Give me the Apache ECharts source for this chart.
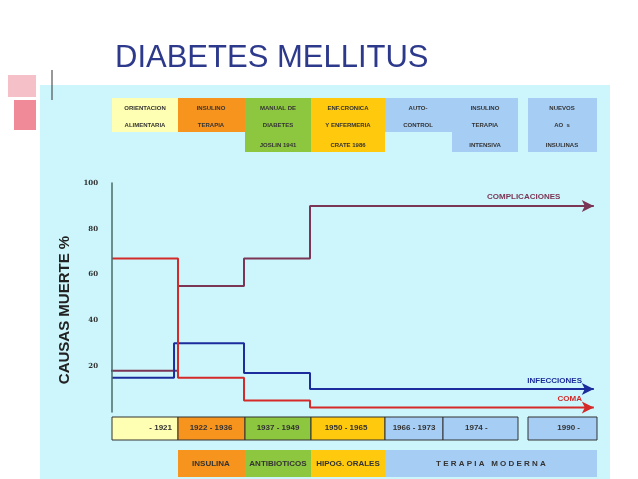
<!DOCTYPE html>
<html><head><meta charset="utf-8">
<script src="https://cdn.jsdelivr.net/npm/echarts@6/dist/echarts.min.js"></script>
<style>html,body{margin:0;padding:0;background:#fff}#c{width:638px;height:479px}</style>
</head><body><div id="c"></div>
<script>
// x unit = one period box; y = % of deaths
const yTicks = [20, 40, 60, 80, 100];
const complicaciones = [[-0.05, 18], [1, 55], [2, 67], [3, 90], [7.3, 90]];
const coma = [[0, 67], [1, 15], [2, 5], [3, 2], [7.3, 2]];
const infecciones = [[0, 15], [0.94, 30], [2, 17], [3, 10], [7.3, 10]];
const periods = ['- 1921', '1922 - 1936', '1937 - 1949', '1950 - 1965', '1966 - 1973', '1974 -', '1990 -'];
const therapies = ['INSULINA', 'ANTIBIOTICOS', 'HIPOG. ORALES', 'T E R A P I A   M O D E R N A'];

const C = { yel: '#ffffb4', ora: '#f7941d', grn: '#8dc63f', gld: '#ffc90e', blu: '#a6cdf4' };

function withArrow(pts) {
  return pts.map((p, i) => i === pts.length - 1
    ? { value: p, symbol: 'arrow', symbolSize: [9, 12], symbolRotate: -90 }
    : { value: p, symbol: 'none' });
}
function line(name, pts, color) {
  return { name, type: 'line', step: 'end', data: withArrow(pts), lineStyle: { color, width: 2 },
    itemStyle: { color }, showSymbol: true, animation: false };
}
function box(x, y, w, h, fill, stroke) {
  return { type: 'rect', shape: { x, y, width: w, height: h }, style: { fill, stroke: stroke || null, lineWidth: 1 }, z: -5 };
}
function txt(x, y, s, color, size, align, weight) {
  return { type: 'text', x, y, style: { text: s, fill: color || '#333', font: (weight || 'bold') + ' ' + (size || 6) + 'px "Liberation Sans"', align: align || 'center', verticalAlign: 'middle' }, z: 5 };
}

const bg = box(40, 85, 570, 394, '#ccf6fb');
bg.z = -10;
const graphic = [
  bg,
  box(8, 75, 28, 22, '#f6c0c8'), box(14, 100, 22, 30, '#f08a98'),
  { type: 'line', shape: { x1: 52, y1: 70, x2: 52, y2: 100 }, style: { stroke: '#333', lineWidth: 1 }, z: 2 },
  txt(115, 58, 'DIABETES MELLITUS', '#2d3a8c', 31, 'left', 'normal'),
  // header boxes
  box(112, 98, 66, 34, C.yel), box(178, 98, 67, 34, C.ora), box(245, 98, 66, 54, C.grn),
  box(311, 98, 74, 54, C.gld), box(385, 98, 133, 34, C.blu), box(452, 132, 66, 20, C.blu), box(528, 98, 69, 54, C.blu),
  txt(145, 108, 'ORIENTACION'), txt(145, 125, 'ALIMENTARIA'),
  txt(211, 108, 'INSULINO'), txt(211, 125, 'TERAPIA'),
  txt(278, 108, 'MANUAL DE'), txt(278, 125, 'DIABETES'), txt(278, 145, 'JOSLIN 1941'),
  txt(348, 108, 'ENF.CRONICA'), txt(348, 125, 'Y ENFERMERIA'), txt(348, 145, 'CRATE 1986'),
  txt(418, 108, 'AUTO-'), txt(418, 125, 'CONTROL'),
  txt(485, 108, 'INSULINO'), txt(485, 125, 'TERAPIA'), txt(485, 145, 'INTENSIVA'),
  txt(562, 108, 'NUEVOS'), txt(562, 125, 'AO  s'), txt(562, 145, 'INSULINAS'),
  // period boxes
  box(112, 417, 66, 23, C.yel, '#333'), box(178, 417, 67, 23, C.ora, '#333'), box(245, 417, 66, 23, C.grn, '#333'),
  box(311, 417, 74, 23, C.gld, '#333'), box(385, 417, 58, 23, C.blu, '#333'), box(443, 417, 75, 23, C.blu, '#333'),
  box(528, 417, 69, 23, C.blu, '#333'),
  txt(172, 428, periods[0], '#333', 8, 'right'), txt(211, 428, periods[1], '#333', 8), txt(278, 428, periods[2], '#333', 8),
  txt(346, 428, periods[3], '#333', 8), txt(414, 428, periods[4], '#333', 8), txt(465, 428, periods[5], '#333', 8, 'left'),
  txt(580, 428, periods[6], '#333', 8, 'right'),
  // therapy row
  box(178, 450, 67, 27, C.ora), box(245, 450, 66, 27, C.grn), box(311, 450, 74, 27, C.gld), box(385, 450, 212, 27, C.blu),
  txt(211, 464, therapies[0], '#333', 8), txt(278, 464, therapies[1], '#333', 8), txt(348, 464, therapies[2], '#333', 8),
  txt(491, 464, therapies[3], '#333', 8),
  // series labels
  txt(487, 197, 'COMPLICACIONES', '#7b3555', 8, 'left'),
  txt(582, 381, 'INFECCIONES', '#1c2c9c', 8, 'right'),
  txt(582, 399, 'COMA', '#d42a2a', 8, 'right'),
  { type: 'text', x: 65, y: 310, rotation: Math.PI / 2,
    style: { text: 'CAUSAS MUERTE %', fill: '#222', font: 'bold 15px "Liberation Sans"', align: 'center', verticalAlign: 'middle' }, z: 5 }
];

const chart = echarts.init(document.getElementById('c'));
chart.setOption({
  animation: false,
  graphic: { elements: graphic, z: -1 },
  grid: { left: 112, top: 183, width: 488.4, height: 229 },
  xAxis: { type: 'value', min: 0, max: 7.4, show: false },
  yAxis: {
    type: 'value', min: 0, max: 100, interval: 20, z: 5,
    axisLine: { show: true, lineStyle: { color: '#4a6a6a', width: 1.5 } },
    axisTick: { show: false }, splitLine: { show: false },
    axisLabel: { margin: 14, color: '#333', fontSize: 7, fontWeight: 'bold', fontFamily: 'DejaVu Serif',
      formatter: v => (yTicks.includes(v) ? v : '') }
  },
  series: [
    line('COMPLICACIONES', complicaciones, '#7b3555'),
    line('INFECCIONES', infecciones, '#1c2c9c'),
    line('COMA', coma, '#d42a2a')
  ]
});
</script></body></html>
